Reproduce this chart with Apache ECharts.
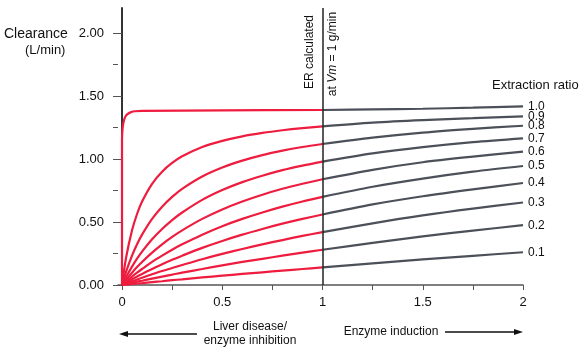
<!DOCTYPE html>
<html>
<head>
<meta charset="utf-8">
<script src="https://cdn.jsdelivr.net/npm/echarts@6/dist/echarts.min.js"></script>
<style>
html,body{margin:0;padding:0;background:#fff;}
#c{width:587px;height:354px;}
</style>
</head>
<body>
<div id="c"></div>
<script>
// ---- data ----
const ratios = ['1.0','0.9','0.8','0.7','0.6','0.5','0.4','0.3','0.2','0.1'];
// x positions (Vm, g/min) used for the red (<=1) and grey (>=1) parts
const redX  = [0, 0.02, 0.05, 0.075, 0.1, 0.15, 0.2, 0.25, 0.3, 0.4, 0.5, 0.6, 0.7, 0.8, 0.9, 1];
const grayX = [1, 1.25, 1.5, 1.75, 2];
// ER = 1.0 rises almost vertically then plateaus
const red10X = [0, 0, 0.002, 0.006, 0.012, 0.02, 0.03, 0.045, 0.065, 0.1, 0.5, 1];
const red10  = [0, 1.15, 1.23, 1.28, 1.32, 1.345, 1.36, 1.373, 1.38, 1.383, 1.387, 1.39];
const red09 = [0, 0.214, 0.434, 0.564, 0.663, 0.804, 0.90, 0.969, 1.022, 1.096, 1.145, 1.181, 1.208, 1.229, 1.246, 1.26];
const red08 = [0, 0.104, 0.233, 0.323, 0.40, 0.525, 0.622, 0.70, 0.764, 0.862, 0.933, 0.988, 1.032, 1.067, 1.096, 1.12];
const red07 = [0, 0.062, 0.146, 0.209, 0.265, 0.363, 0.445, 0.516, 0.576, 0.676, 0.754, 0.817, 0.868, 0.912, 0.948, 0.98];
const red06 = [0, 0.041, 0.098, 0.142, 0.183, 0.257, 0.323, 0.382, 0.434, 0.525, 0.60, 0.663, 0.717, 0.764, 0.804, 0.84];
const red05 = [0, 0.027, 0.067, 0.098, 0.127, 0.183, 0.233, 0.28, 0.323, 0.40, 0.467, 0.525, 0.576, 0.622, 0.663, 0.70];
const red04 = [0, 0.018, 0.045, 0.067, 0.088, 0.127, 0.165, 0.20, 0.233, 0.295, 0.35, 0.40, 0.445, 0.487, 0.525, 0.56];
const red03 = [0, 0.012, 0.029, 0.044, 0.058, 0.085, 0.111, 0.135, 0.159, 0.205, 0.247, 0.286, 0.323, 0.357, 0.39, 0.42];
const red02 = [0, 0.007, 0.017, 0.026, 0.034, 0.051, 0.067, 0.082, 0.098, 0.127, 0.156, 0.183, 0.208, 0.233, 0.257, 0.28];
const red01 = [0, 0.003, 0.008, 0.012, 0.015, 0.023, 0.03, 0.038, 0.045, 0.06, 0.074, 0.088, 0.101, 0.114, 0.127, 0.14];
const gray10 = [1.39, 1.395, 1.40, 1.408, 1.418];
const gray09 = [1.26, 1.29, 1.31, 1.325, 1.34];
const gray08 = [1.12, 1.17, 1.21, 1.24, 1.265];
const gray07 = [0.98, 1.045, 1.095, 1.135, 1.165];
const gray06 = [0.84, 0.915, 0.975, 1.02, 1.06];
const gray05 = [0.70, 0.78, 0.845, 0.90, 0.945];
const gray04 = [0.56, 0.64, 0.705, 0.76, 0.81];
const gray03 = [0.42, 0.49, 0.553, 0.607, 0.655];
const gray02 = [0.28, 0.335, 0.386, 0.432, 0.475];
const gray01 = [0.14, 0.172, 0.203, 0.232, 0.26];
const yTicks = [0, 0.5, 1, 1.5, 2];
const yMinorTicks = [0.25, 0.75, 1.25, 1.75];
const xTicks = [0, 0.5, 1, 1.5, 2];
const xAllTicks = [0, 0.25, 0.5, 0.75, 1, 1.25, 1.5, 1.75, 2];

const redSets = [red10, red09, red08, red07, red06, red05, red04, red03, red02, red01];
const graySets = [gray10, gray09, gray08, gray07, gray06, gray05, gray04, gray03, gray02, gray01];

const RED = '#ee1c3e';
const GRAY = '#4b5059';
const FONT = 'Liberation Sans';
const zip = (xs, ys) => xs.map((x, i) => [x, ys[i]]);

const series = [];
ratios.forEach((r, i) => {
  const rx = i === 0 ? red10X : redX;
  series.push({
    type: 'line', name: 'r' + r, data: zip(rx, redSets[i]),
    smooth: 0.3,
    showSymbol: false, symbol: 'none', silent: true,
    lineStyle: { color: RED, width: 2.2 }, z: 3
  });
  series.push({
    type: 'line', name: r, data: zip(grayX, graySets[i]),
    smooth: 0.3,
    showSymbol: false, symbol: 'none', silent: true,
    lineStyle: { color: GRAY, width: 2.2 }, z: 3,
    endLabel: { show: true, formatter: r, distance: 5, color: '#111',
      fontFamily: FONT, fontSize: 12 }
  });
});
series[0].markLine = {
  symbol: 'none', silent: true, label: { show: false },
  lineStyle: { color: '#222', width: 1.5, type: 'solid' },
  data: [{ xAxis: 1 }], z: 4
};

const chart = echarts.init(document.getElementById('c'), null, { renderer: 'canvas' });
chart.setOption({
  animation: false,
  backgroundColor: '#fff',
  grid: { left: 118, right: 64, top: 8, bottom: 69 },
  xAxis: {
    type: 'value', min: -0.02, max: 2,
    axisLine: { show: true, lineStyle: { color: '#555', width: 1.5 } },
    axisTick: { show: true, customValues: xAllTicks, length: 5, lineStyle: { color: '#555', width: 1 } },
    axisLabel: { customValues: xTicks, formatter: v => String(v), color: '#111',
      fontFamily: FONT, fontSize: 13, margin: 11 },
    splitLine: { show: false }
  },
  yAxis: [{
    type: 'value', min: 0, max: 2.2,
    axisLine: { show: true, lineStyle: { color: '#333', width: 2 } },
    axisTick: { show: true, customValues: yTicks, length: 9, lineStyle: { color: '#555', width: 1 } },
    axisLabel: { customValues: yTicks, formatter: v => v.toFixed(2), color: '#111',
      fontFamily: FONT, fontSize: 13, margin: 14 },
    splitLine: { show: false }
  }, {
    type: 'value', min: 0, max: 2.2, position: 'left',
    axisLine: { show: false },
    axisTick: { show: true, customValues: yMinorTicks, length: 5, lineStyle: { color: '#555', width: 1 } },
    axisLabel: { show: false },
    splitLine: { show: false }
  }],
  series: series,
  graphic: [
    { type: 'text', left: 4, top: 27, style: { text: 'Clearance', fill: '#111', font: '14px "Liberation Sans"' } },
    { type: 'text', left: 25, top: 44, style: { text: '(L/min)', fill: '#111', font: '13px "Liberation Sans"' } },
    { type: 'text', left: 492, top: 79, style: { text: 'Extraction ratio', fill: '#111', font: '13px "Liberation Sans"' } },
    { type: 'text', x: 310, y: 52, rotation: Math.PI / 2,
      style: { text: 'ER calculated', fill: '#111', font: '12px "Liberation Sans"', align: 'center', verticalAlign: 'middle' } },
    { type: 'text', x: 333, y: 54, rotation: Math.PI / 2,
      style: { text: 'at {i|Vm} = 1 g/min', fill: '#111', font: '12px "Liberation Sans"', align: 'center', verticalAlign: 'middle',
        rich: { i: { fontStyle: 'italic', fontFamily: FONT, fontSize: 12, fill: '#111' } } } },
    { type: 'text', x: 250, y: 327, style: { text: 'Liver disease/', fill: '#111', font: '12px "Liberation Sans"', align: 'center', verticalAlign: 'middle' } },
    { type: 'text', x: 250, y: 341, style: { text: 'enzyme inhibition', fill: '#111', font: '12px "Liberation Sans"', align: 'center', verticalAlign: 'middle' } },
    { type: 'text', x: 391, y: 332, style: { text: 'Enzyme induction', fill: '#111', font: '12px "Liberation Sans"', align: 'center', verticalAlign: 'middle' } },
    { type: 'line', shape: { x1: 126, y1: 334, x2: 197, y2: 334 }, style: { stroke: '#111', lineWidth: 1.3 } },
    { type: 'polygon', shape: { points: [[119, 334], [128, 331], [128, 337]] }, style: { fill: '#111' } },
    { type: 'line', shape: { x1: 445, y1: 332, x2: 516, y2: 332 }, style: { stroke: '#111', lineWidth: 1.3 } },
    { type: 'polygon', shape: { points: [[523, 332], [514, 329], [514, 335]] }, style: { fill: '#111' } }
  ]
});
</script>
</body>
</html>
